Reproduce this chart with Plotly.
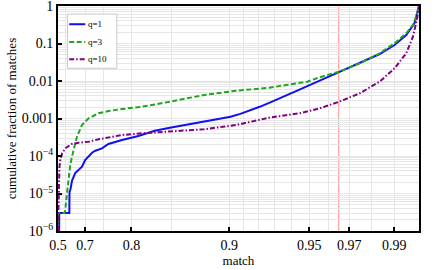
import plotly.graph_objects as go

# ---------------- data ----------------
match_q1 = [0.525, 0.527, 0.629, 0.630, 0.636, 0.645, 0.661, 0.675, 0.689, 0.700, 0.711, 0.721,
            0.730, 0.746, 0.760, 0.785, 0.810, 0.831, 0.848, 0.868, 0.888, 0.901, 0.908, 0.915, 0.921, 0.927,
            0.937, 0.945, 0.9555, 0.9652, 0.9749, 0.9838, 0.9901, 0.9949, 0.9982, 1.0]
frac_q1 = [1e-6, 3e-6, 3e-6, 1.1e-5, 1.3e-5, 2.2e-5, 3.5e-5, 4.2e-5, 5.2e-5, 7.8e-5, 9.6e-5, 1.22e-4,
           1.38e-4, 1.6e-4, 2.09e-4, 2.67e-4, 3.4e-4, 4.73e-4, 5.69e-4, 7.1e-4, 9.1e-4, 1.12e-3, 1.33e-3, 1.65e-3, 2.05e-3, 2.6e-3,
           4.0e-3, 6.0e-3, 0.0102, 0.0171, 0.0297, 0.0525, 0.091, 0.169, 0.346, 1.0]

match_q3 = [0.500, 0.5005, 0.593, 0.599, 0.613, 0.635, 0.653, 0.669, 0.689, 0.711, 0.738, 0.760,
            0.785, 0.815, 0.848, 0.880, 0.905, 0.927, 0.937, 0.945, 0.949, 0.9555, 0.9652, 0.9749,
            0.9838, 0.9901, 0.9949, 0.9976, 0.9989, 1.0]
frac_q3 = [1e-6, 3e-6, 3e-6, 3.6e-6, 1.0e-5, 6.0e-5, 1.45e-4, 3.27e-4, 6.7e-4, 1.01e-3, 1.38e-3, 1.58e-3,
           1.79e-3, 2.06e-3, 2.8e-3, 4.23e-3, 5.5e-3, 6.6e-3, 7.8e-3, 8.7e-3, 9.6e-3, 0.0126, 0.0177, 0.0297,
           0.0548, 0.101, 0.187, 0.311, 0.519, 1.0]

match_q10 = [0.500, 0.515, 0.530, 0.544, 0.570, 0.599, 0.644, 0.676, 0.711, 0.738, 0.760, 0.785,
             0.815, 0.848, 0.880, 0.905, 0.927, 0.945, 0.9555, 0.9652, 0.9749, 0.9838, 0.9901,
             0.9949, 0.9976, 0.99915, 1.0]
frac_q10 = [1e-6, 1e-5, 5e-5, 8e-5, 1.2e-4, 1.6e-4, 2.09e-4, 2.27e-4, 2.4e-4, 2.79e-4, 3.15e-4, 3.63e-4,
            4.03e-4, 4.44e-4, 5.15e-4, 6.7e-4, 1.05e-3, 1.38e-3, 1.87e-3, 2.8e-3, 4.7e-3, 9.6e-3, 0.0218,
            0.0548, 0.152, 0.424, 1.0]

series_names = ["q=1", "q=3", "q=10"]
threshold = 0.965

x_tick_values = [0.5, 0.7, 0.8, 0.9, 0.95, 0.97, 0.99]
x_tick_labels = ["0.5", "0.7", "0.8", "0.9", "0.95", "0.97", "0.99"]
x_minor_values = [0.6, 0.75, 0.85, 0.91, 0.92, 0.93, 0.94, 0.96, 0.98]
y_tick_values = [1e-6, 1e-5, 1e-4, 1e-3, 1e-2, 1e-1, 1]
y_tick_labels = ["10<sup>\u22126</sup>", "10<sup>\u22125</sup>", "10<sup>\u22124</sup>",
                 "0.001", "0.01", "0.1", "1"]

# ---------------- axis transform (power scale) ----------------
POW = 7
def tx(v):
    return [m ** POW for m in v]

FONT = "Liberation Serif"
colors = ["#1010f0", "#1fa51f", "#800080"]
dashes = ["solid", "5px,2.5px", "5px,2px,1.5px,2px"]

fig = go.Figure()
for xs, ys, c, d, n in [(match_q1, frac_q1, colors[0], dashes[0], series_names[0]),
                        (match_q3, frac_q3, colors[1], dashes[1], series_names[1]),
                        (match_q10, frac_q10, colors[2], dashes[2], series_names[2])]:
    fig.add_trace(go.Scatter(x=tx(xs), y=ys, mode="lines", name=n,
                             line=dict(color=c, width=2, dash=d), showlegend=False,
                             hoverinfo="skip"))

# threshold line
fig.add_shape(type="line", xref="x", yref="paper", x0=threshold ** POW, x1=threshold ** POW,
              y0=0, y1=1, line=dict(color="rgba(255,90,90,0.6)", width=1.2), layer="below")

# manual legend
fig.add_shape(type="rect", xref="paper", yref="paper", x0=0.0265, x1=0.163, y0=0.723, y1=0.964,
              line=dict(color="#c8c8c8", width=1), fillcolor="white")
leg_y = [0.919, 0.84, 0.763]
for yy, c, d, n in zip(leg_y, colors, dashes, series_names):
    fig.add_shape(type="line", xref="paper", yref="paper", x0=0.031, x1=0.0755, y0=yy, y1=yy,
                  line=dict(color=c, width=2, dash=d))
    fig.add_annotation(xref="paper", yref="paper", x=0.078, y=yy, text=n, showarrow=False,
                       xanchor="left", yanchor="middle", font=dict(family=FONT, size=9, color="black"))

grid = "#e6e6e6"
y_minor = [k * 10 ** e for e in range(-6, 0) for k in range(2, 10)]

fig.update_layout(
    template="none",
    width=436, height=270,
    margin=dict(l=58, r=17, t=6, b=39, autoexpand=False),
    paper_bgcolor="white", plot_bgcolor="white",
    font=dict(family=FONT, size=14, color="black"),
    xaxis=dict(range=[0.5 ** POW, 1.0], tickmode="array", tickvals=tx(x_tick_values),
               ticktext=x_tick_labels, showgrid=True, gridcolor=grid, gridwidth=1,
               ticks="inside", ticklen=4, tickwidth=1.5, tickcolor="black",
               showline=True, linecolor="black", linewidth=2, mirror=True, zeroline=False,
               automargin=False, ticklabeloverflow="allow",
               minor=dict(tickmode="array", tickvals=tx(x_minor_values), showgrid=True,
                          gridcolor=grid, gridwidth=1, ticks=""),
               title=dict(text="match", font=dict(size=13), standoff=2),
               tickfont=dict(size=14)),
    yaxis=dict(type="log", range=[-6, 0], tickmode="array", tickvals=y_tick_values,
               ticktext=y_tick_labels, showgrid=True, gridcolor=grid, gridwidth=1,
               ticks="inside", ticklen=4, tickwidth=1.5, tickcolor="black",
               showline=True, linecolor="black", linewidth=2, mirror=True, zeroline=False,
               automargin=False, ticklabeloverflow="allow",
               minor=dict(tickmode="array", tickvals=y_minor, showgrid=True,
                          gridcolor=grid, gridwidth=1, ticks=""),
               title=dict(text="cumulative fraction of matches", font=dict(size=13), standoff=2),
               tickfont=dict(size=14)),
)

fig.write_html("out.html", config={"displayModeBar": False},
               post_script="document.body.style.margin='0';")
